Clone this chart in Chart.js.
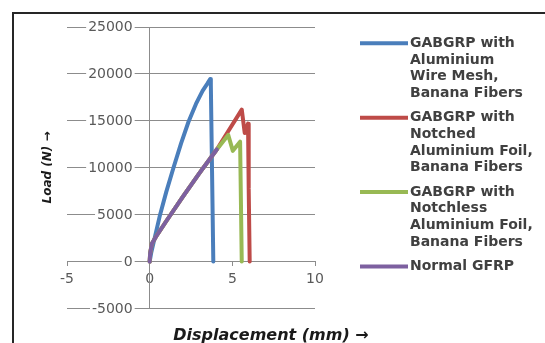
<!DOCTYPE html>
<html><head><meta charset="utf-8">
<script src="https://cdn.jsdelivr.net/npm/chart.js@4"></script>
<style>
html,body{margin:0;padding:0;background:#fff;overflow:hidden;width:545px;height:343px}
#frame{position:absolute;left:12px;top:12px;width:700px;height:500px;border-left:2px solid #262626;border-top:2px solid #262626;}
#c{position:absolute;left:0;top:0}
</style></head>
<body><div id="frame"></div><canvas id="c" width="545" height="343"></canvas>
<script>
// ---- data ----
const blueX  = [0, 0.1, 0.3, 0.63, 1.0, 1.44, 1.9, 2.35, 2.8, 3.2, 3.5, 3.66, 3.70, 3.85];
const blueY  = [0, 1000, 2500, 5000, 7400, 10000, 12600, 14900, 16800, 18200, 19000, 19450, 18800, 0];
const redX   = [0, 0.03, 0.13, 0.4, 1.0, 2.0, 3.0, 4.06, 5.57, 5.75, 5.95, 5.99, 6.05];
const redY   = [0, 900, 1900, 2700, 4300, 6900, 9400, 11950, 16200, 13700, 14700, 7800, 0];
const greenX = [0, 0.03, 0.13, 0.4, 1.0, 2.0, 3.0, 4.06, 4.75, 5.03, 5.47, 5.57];
const greenY = [0, 900, 1900, 2700, 4300, 6900, 9400, 11950, 13500, 11800, 12780, 0];
const purpleX = [0, 0.03, 0.13, 0.4, 1.0, 2.0, 3.0, 4.06];
const purpleY = [0, 900, 1900, 2700, 4300, 6900, 9400, 11950];

const seriesNames = [
  ["GABGRP with", "Aluminium", "Wire Mesh,", "Banana Fibers"],
  ["GABGRP with", "Notched", "Aluminium Foil,", "Banana Fibers"],
  ["GABGRP with", "Notchless", "Aluminium Foil,", "Banana Fibers"],
  ["Normal GFRP"]
];
const seriesColors = ["#4A7EBB", "#BE4B48", "#98B954", "#7D60A0"];
const xTickValues = [-5, 0, 5, 10];
const yTickValues = [-5000, 0, 5000, 10000, 15000, 20000, 25000];
const xTitle = "Displacement (mm) \u2192";
const yTitle = "Load (N) \u2192";

function pts(xs, ys) { return xs.map((x, i) => ({x: x, y: ys[i]})); }
const seriesData = [pts(blueX, blueY), pts(redX, redY), pts(greenX, greenY), pts(purpleX, purpleY)];

const GRID = "#8c8c8c";
const TICK_FONT = "14px 'DejaVu Sans'";

const extras = {
  id: "extras",
  beforeDatasetsDraw(chart) {
    // y tick labels, left of the vertical axis that crosses at x = 0
    const ys = chart.scales.y, xs = chart.scales.x, ctx = chart.ctx;
    const ax = xs.getPixelForValue(0);
    ctx.save();
    ctx.font = TICK_FONT;
    ctx.textAlign = "right";
    ctx.textBaseline = "middle";
    ys.ticks.forEach(t => {
      const yy = ys.getPixelForValue(t.value);
      const txt = String(t.value);
      const w = ctx.measureText(txt).width;
      ctx.fillStyle = "#ffffff";
      ctx.fillRect(ax - 17 - w - 2, yy - 6, w + 4, 12);
      ctx.fillStyle = "#595959";
      ctx.fillText(txt, ax - 17, yy + 0.5);
    });
    ctx.restore();
  },
  afterDraw(chart) {
    const ctx = chart.ctx;
    ctx.save();
    // legend
    ctx.font = "bold 14px 'DejaVu Sans'";
    ctx.textBaseline = "middle";
    ctx.textAlign = "left";
    let y = 43.3;
    const lh = 16.7;
    seriesNames.forEach((lines, i) => {
      ctx.strokeStyle = seriesColors[i];
      ctx.lineWidth = 4;
      ctx.lineCap = "butt";
      ctx.beginPath(); ctx.moveTo(360, y); ctx.lineTo(408, y); ctx.stroke();
      ctx.fillStyle = "#404040";
      lines.forEach((t, j) => ctx.fillText(t, 410, y + j * lh));
      y += lines.length * lh + 7.6;
    });
    // axis titles
    ctx.fillStyle = "#1a1a1a";
    ctx.font = "italic bold 16px 'DejaVu Sans'";
    ctx.textAlign = "center";
    ctx.fillText(xTitle, 271, 336);
    ctx.translate(48, 167.5);
    ctx.rotate(-Math.PI / 2);
    ctx.font = "italic bold 12px 'DejaVu Sans'";
    ctx.fillText(yTitle, 0, 0);
    ctx.restore();
  }
};

new Chart(document.getElementById("c"), {
  type: "scatter",
  data: {
    datasets: seriesData.map((d, i) => ({
      label: seriesNames[i].join(" "),
      data: d,
      showLine: true,
      borderColor: seriesColors[i],
      backgroundColor: seriesColors[i],
      borderWidth: 4,
      pointRadius: 0,
      borderCapStyle: "round",
      borderJoinStyle: "round",
      tension: 0,
      order: seriesData.length - i
    }))
  },
  options: {
    responsive: false,
    animation: false,
    devicePixelRatio: 1,
    layout: { padding: { left: 67, right: 230, top: 27, bottom: 34.5 } },
    plugins: { legend: { display: false }, tooltip: { enabled: false } },
    scales: {
      x: {
        type: "linear",
        position: { y: 0 },
        min: -5, max: 10,
        afterBuildTicks: s => { s.ticks = xTickValues.map(v => ({value: v})); },
        grid: { drawOnChartArea: false, drawTicks: true, tickLength: 4, color: GRID },
        border: { display: true, color: GRID },
        ticks: { font: { family: "DejaVu Sans", size: 14 }, color: "#595959", padding: 5, maxRotation: 0 }
      },
      y: {
        type: "linear",
        position: { x: 0 },
        min: -5000, max: 25000,
        afterBuildTicks: s => { s.ticks = yTickValues.map(v => ({value: v})); },
        grid: { drawTicks: false, color: GRID },
        border: { display: true, color: GRID },
        ticks: { display: false }
      }
    }
  },
  plugins: [extras]
});
</script>
</body></html>
